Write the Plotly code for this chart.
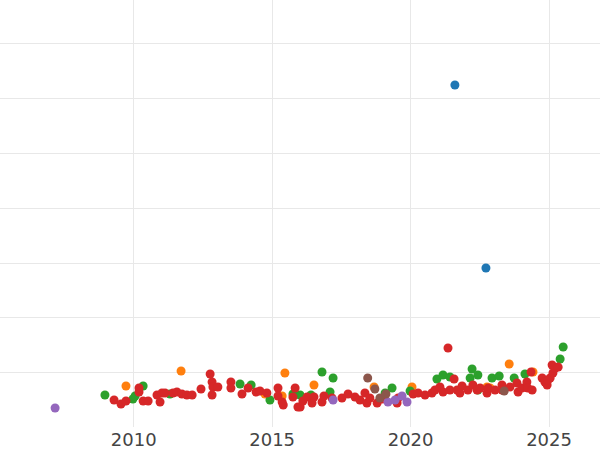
import plotly.graph_objects as go

# Data (x = decimal year, y = value in grid units)
blue_x = [2021.60, 2022.72]
blue_y = [6.247, 2.910]

orange_x = [2009.72, 2011.71, 2015.46, 2016.51, 2014.74, 2015.36, 2018.68, 2020.05,
            2022.76, 2022.87, 2023.56, 2024.42]
orange_y = [0.757, 1.031, 0.994, 0.776, 0.611, 0.575, 0.739, 0.739,
            0.739, 0.721, 1.159, 1.013]

green_x = [2008.96, 2009.97, 2010.05, 2010.34, 2011.31, 2013.84, 2014.24, 2014.92,
           2015.75, 2016.01, 2016.40, 2016.80, 2017.20, 2017.09, 2019.08, 2019.33,
           2019.98, 2020.95, 2021.17, 2021.42, 2022.22, 2022.15, 2022.43, 2022.43,
           2022.94, 2023.20, 2023.74, 2024.13, 2025.40, 2025.51]
green_y = [0.593, 0.520, 0.575, 0.757, 0.611, 0.794, 0.776, 0.502,
           0.611, 0.593, 0.593, 1.013, 0.903, 0.648, 0.630, 0.721,
           0.666, 0.885, 0.958, 0.921, 1.067, 0.903, 0.958, 0.684,
           0.903, 0.940, 0.903, 0.976, 1.250, 1.468]

red_x = [2009.29, 2009.54, 2009.72, 2010.19, 2010.19, 2010.34, 2010.52, 2010.84,
         2010.95, 2011.02, 2011.13, 2011.42, 2011.56, 2011.74, 2011.92, 2012.11,
         2012.43, 2012.76, 2012.83, 2012.86, 2012.83, 2013.04, 2013.51, 2013.51,
         2013.91, 2014.13, 2014.42, 2014.56, 2014.81, 2015.21, 2015.21, 2015.36,
         2015.40, 2015.83, 2015.75, 2015.93, 2016.01, 2016.11, 2016.26, 2016.44,
         2016.51, 2016.80, 2016.87, 2017.16, 2017.52, 2017.74, 2017.99, 2018.17,
         2018.35, 2018.42, 2018.53, 2018.79, 2018.97, 2019.51, 2019.55, 2020.09,
         2020.27, 2020.52, 2020.77, 2020.88, 2021.06, 2021.17, 2021.35, 2021.42,
         2021.57, 2021.68, 2021.86, 2021.78, 2022.07, 2022.25, 2022.40, 2022.51,
         2022.76, 2022.80, 2023.05, 2023.30, 2023.30, 2023.59, 2023.84, 2023.88,
         2024.02, 2024.20, 2024.23, 2024.39, 2024.35, 2024.75, 2024.85, 2024.93,
         2025.04, 2025.14, 2025.22, 2025.11, 2025.33, 2024.96]
red_y = [0.502, 0.429, 0.484, 0.648, 0.721, 0.484, 0.484, 0.593,
         0.466, 0.630, 0.630, 0.630, 0.648, 0.611, 0.593, 0.593,
         0.703, 0.976, 0.830, 0.739, 0.593, 0.739, 0.830, 0.721,
         0.611, 0.721, 0.648, 0.666, 0.630, 0.721, 0.575, 0.466,
         0.411, 0.721, 0.557, 0.375, 0.375, 0.484, 0.557, 0.447,
         0.557, 0.466, 0.575, 0.539, 0.539, 0.611, 0.557, 0.502,
         0.630, 0.447, 0.539, 0.447, 0.520, 0.447, 0.539, 0.611,
         0.630, 0.593, 0.630, 0.684, 0.739, 0.648, 1.450, 0.684,
         0.885, 0.684, 0.757, 0.630, 0.684, 0.776, 0.684, 0.721,
         0.630, 0.721, 0.684, 0.776, 0.684, 0.739, 0.812, 0.648,
         0.721, 0.830, 0.721, 0.684, 1.013, 0.903, 0.830, 0.776,
         0.903, 0.994, 1.085, 1.140, 1.103, 0.867]

purple_x = [2007.16, 2017.20, 2019.18, 2019.44, 2019.69, 2019.87]
purple_y = [0.356, 0.502, 0.466, 0.502, 0.575, 0.466]

brown_x = [2018.45, 2018.71, 2018.89, 2019.11, 2023.38]
brown_y = [0.903, 0.703, 0.539, 0.611, 0.666]

x_ticks = [2010, 2015, 2020, 2025]
x_tick_labels = ["2010", "2015", "2020", "2025"]

series = [
    (blue_x, blue_y, "#1f77b4"),
    (orange_x, orange_y, "#ff7f0e"),
    (green_x, green_y, "#2ca02c"),
    (red_x, red_y, "#d62728"),
    (purple_x, purple_y, "#9467bd"),
    (brown_x, brown_y, "#8c564b"),
]

fig = go.Figure()
for xs, ys, col in series:
    fig.add_trace(go.Scatter(x=xs, y=ys, mode="markers",
                             marker=dict(color=col, size=9, line=dict(width=0)),
                             showlegend=False))

fig.update_layout(
    width=600, height=450,
    margin=dict(l=0, r=0, t=0, b=23),
    paper_bgcolor="white", plot_bgcolor="white",
    font=dict(family="DejaVu Sans", size=18, color="#444"),
)
fig.update_xaxes(range=[2005.17, 2026.84], tickvals=x_ticks, ticktext=x_tick_labels,
                 showgrid=True, gridcolor="#e8e8e8", gridwidth=1, zeroline=False,
                 showline=False, ticks="")
fig.update_yaxes(range=[0.01, 7.797], dtick=1, tick0=0, showticklabels=False,
                 showgrid=True, gridcolor="#e8e8e8", gridwidth=1, zeroline=False,
                 showline=False, ticks="")

fig.write_html("out.html", config={"displayModeBar": False},
               post_script="document.body.style.margin='0px';document.body.style.overflow='hidden';")
